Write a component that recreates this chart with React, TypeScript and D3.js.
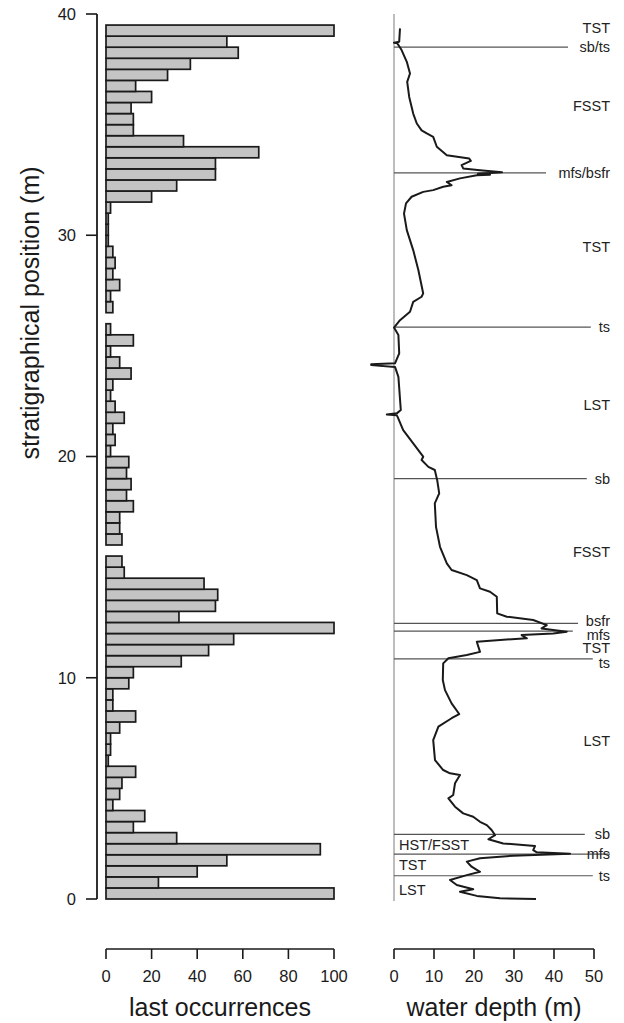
import React from 'react';
import * as d3 from 'd3';

// counts of last occurrences per 0.5 m bin, from 0 m upwards
const binSize = 0.5;
const lastOccurrences = [
  100, 23, 40, 53, 94, 31, 12, 17, 3, 6,
  7, 13, 1, 2, 2, 6, 13, 3, 3, 10,
  12, 33, 45, 56, 100, 32, 48, 49, 43, 8,
  7, 0, 7, 6, 6, 12, 9, 11, 9, 10,
  2, 4, 3, 8, 4, 2, 3, 11, 6, 2,
  12, 2, 0, 3, 2, 6, 3, 4, 3, 1,
  1, 1, 2, 20, 31, 48, 48, 67, 34, 12,
  12, 11, 20, 13, 27, 37, 58, 53, 100,
];

// water depth curve, read top to bottom (position m, depth m)
const depthPos = [
  39.35, 38.75, 38.7, 38.68, 38.6, 38.37, 37.84, 37.31, 36.93, 36.25,
  35.5, 35.05, 34.74, 34.6, 34.45, 34.0, 33.62, 33.47, 33.36, 33.17,
  33.02, 32.94, 32.85, 32.78, 32.74, 32.71, 32.57, 32.41, 32.26, 32.19,
  32.04, 31.96, 31.74, 31.44, 30.98, 30.23, 29.33, 28.42, 27.37, 27.22,
  26.99, 26.54, 26.16, 25.83, 25.49, 24.66, 24.21, 24.17, 24.13, 24.05,
  23.6, 22.1, 21.95, 21.9, 21.86, 21.79, 21.19, 20.59, 19.99, 19.84,
  19.53, 19.39, 18.93, 18.33, 17.88, 16.82, 15.92, 15.17, 14.87, 14.64,
  14.41, 14.04, 13.89, 13.66, 12.91, 12.76, 12.61, 12.38, 12.23, 12.08,
  12.0, 11.93, 11.78, 11.7, 11.63, 11.17, 11.03, 10.88, 10.65, 9.9,
  9.44, 8.84, 8.36, 8.17, 7.79, 7.18, 6.28, 5.83, 5.68, 5.6,
  5.23, 4.7, 4.55, 4.17, 3.87, 3.72, 3.49, 3.34, 3.12, 2.89,
  2.7, 2.51, 2.39, 2.21, 2.11, 2.05, 1.96, 1.84, 1.69, 1.46,
  1.23, 1.08, 0.86, 0.63, 0.44, 0.33, 0.14, 0.03, 0.0,
];
const depthVal = [
  1.5, 1.3, 0, 0.8, 1.1, 1.9, 3.2, 4.0, 3.3, 3.8,
  4.8, 5.7, 6.9, 8.2, 9.8, 10.7, 13.2, 18.8, 19.2, 16.9,
  17.3, 21.5, 27.0, 21.0, 24.0, 20.7, 16.5, 13.2, 14.4, 12.3,
  9.8, 7.3, 4.4, 3.0, 2.5, 3.2, 4.8, 6.1, 7.3, 6.9,
  4.8, 4.0, 1.5, 0, 1.1, 1.3, 0.25, -5.7, -5.7, 0.25,
  1.1, 1.7, 0.7, -1.8, 0.7, 0.9, 2.3, 4.8, 7.3, 6.9,
  8.6, 10.2, 10.8, 11.3, 10.2, 10.5, 11.5, 13.2, 14.4, 18.2,
  20.7, 21.5, 24.0, 25.7, 25.8, 28.2, 34.8, 38.2, 36.9, 43.2,
  39.8, 31.9, 33.2, 25.7, 20.7, 21.5, 18.2, 13.6, 12.3, 12.2,
  12.75, 14.4, 16.3, 14.4, 11.1, 9.8, 10.25, 12.3, 14.0, 16.5,
  15.25, 14.8, 13.6, 15.25, 17.3, 19.8, 21.5, 23.2, 24.4, 25.25,
  23.6, 27.3, 35.25, 34.8, 35.7, 44.0, 29.8, 21.5, 18.2, 19.4,
  21.5, 18.2, 14.0, 15.7, 19.8, 16.5, 20.7, 26.5, 35.5,
];

// sequence boundaries: position (m), label, depth where the line stops
const boundaryPos = [38.5, 32.82, 25.85, 19.0, 12.46, 12.11, 10.85, 2.92, 2.03, 1.05];
const boundaryLabel = ['sb/ts', 'mfs/bsfr', 'ts', 'sb', 'bsfr', 'mfs', 'ts', 'sb', 'mfs', 'ts'];
const boundaryEnd = [43.5, 38.0, 49.2, 48.2, 46.0, 44.7, 49.7, 47.7, 54.0, 49.7];

// systems tract labels
const tractPos = [39.36, 35.83, 29.46, 22.32, 15.69, 11.34, 7.15, 2.44, 1.54, 0.41];
const tractLabel = ['TST', 'FSST', 'TST', 'LST', 'FSST', 'TST', 'LST', 'HST/FSST', 'TST', 'LST'];
const tractLeft = [false, false, false, false, false, false, false, true, true, true];

const font = '"Liberation Sans", Arial, Helvetica, sans-serif';
const ink = '#1a1a1a';

const App: React.FC = () => {
  const width = 624;
  const height = 1023;
  const axisY = 949;
  const labelRight = 610;

  const y = d3.scaleLinear().domain([0, 40]).range([899, 14]);
  const xBar = d3.scaleLinear().domain([0, 100]).range([106, 334]);
  const xDepth = d3.scaleLinear().domain([0, 50]).range([394, 594]);

  const curve = d3.line<number>()
    .x((_, i) => xDepth(depthVal[i]))
    .y(d => y(d));

  // small nudges where labels crowd together
  const boundaryOffset: Record<number, number> = { 4: -2, 5: 3.5, 6: 3.5 };

  return (
    <svg
      width={width}
      height={height}
      style={{ position: 'absolute', left: 0, top: 0, background: '#fff' }}
      fontFamily={font}
    >
      {/* stratigraphic axis */}
      <line x1={97} x2={97} y1={y(0)} y2={y(40)} stroke={ink} strokeWidth={1.8} />
      {y.ticks(5).map(t => (
        <g key={t}>
          <line x1={86} x2={97} y1={y(t)} y2={y(t)} stroke={ink} strokeWidth={1.6} />
          <text x={76} y={y(t)} dy="0.36em" textAnchor="end" fontSize={16.5} fill={ink}>{t}</text>
        </g>
      ))}
      <text
        transform={`translate(30, 313) rotate(-90)`}
        dy="0.35em"
        textAnchor="middle"
        fontSize={25}
        fill={ink}
      >
        stratigraphical position (m)
      </text>

      {/* bars */}
      {lastOccurrences.map((v, i) => v > 0 && (
        <rect
          key={i}
          x={xBar(0)}
          y={y((i + 1) * binSize)}
          width={xBar(v) - xBar(0)}
          height={y(i * binSize) - y((i + 1) * binSize)}
          fill="#c4c4c4"
          stroke={ink}
          strokeWidth={1.7}
        />
      ))}

      {/* bar value axis */}
      <line x1={xBar(0)} x2={xBar(100)} y1={axisY} y2={axisY} stroke={ink} strokeWidth={1.6} />
      {xBar.ticks(5).map(t => (
        <g key={t}>
          <line x1={xBar(t)} x2={xBar(t)} y1={axisY} y2={axisY + 10} stroke={ink} strokeWidth={1.6} />
          <text x={xBar(t)} y={982} textAnchor="middle" fontSize={16.5} fill={ink}>{t}</text>
        </g>
      ))}
      <text x={xBar(50)} y={1016} textAnchor="middle" fontSize={25} fill={ink}>last occurrences</text>

      {/* water depth panel */}
      <line x1={xDepth(0)} x2={xDepth(0)} y1={y(0) + 2} y2={y(40)} stroke="#bdbdbd" strokeWidth={2} />
      {boundaryPos.map((p, i) => (
        <g key={`b${i}`}>
          <line
            x1={xDepth(0)}
            x2={xDepth(boundaryEnd[i])}
            y1={y(p)}
            y2={y(p)}
            stroke="#555"
            strokeWidth={1.2}
          />
          <text
            x={labelRight}
            y={y(p) + (boundaryOffset[i] ?? 0)}
            dy="0.35em"
            textAnchor="end"
            fontSize={14.5}
            fill="#222"
          >
            {boundaryLabel[i]}
          </text>
        </g>
      ))}
      {tractPos.map((p, i) => (
        <text
          key={`t${i}`}
          x={tractLeft[i] ? xDepth(0) + 5 : labelRight}
          y={y(p)}
          dy="0.35em"
          textAnchor={tractLeft[i] ? 'start' : 'end'}
          fontSize={14.5}
          fill="#222"
        >
          {tractLabel[i]}
        </text>
      ))}
      <path d={curve(depthPos) ?? ''} fill="none" stroke={ink} strokeWidth={2} strokeLinejoin="round" />

      {/* depth axis */}
      <line x1={xDepth(0)} x2={xDepth(50)} y1={axisY} y2={axisY} stroke={ink} strokeWidth={1.6} />
      {xDepth.ticks(5).map(t => (
        <g key={t}>
          <line x1={xDepth(t)} x2={xDepth(t)} y1={axisY} y2={axisY + 10} stroke={ink} strokeWidth={1.6} />
          <text x={xDepth(t)} y={982} textAnchor="middle" fontSize={16.5} fill={ink}>{t}</text>
        </g>
      ))}
      <text x={xDepth(25)} y={1016} textAnchor="middle" fontSize={25} fill={ink}>water depth (m)</text>
    </svg>
  );
};

export default App;
